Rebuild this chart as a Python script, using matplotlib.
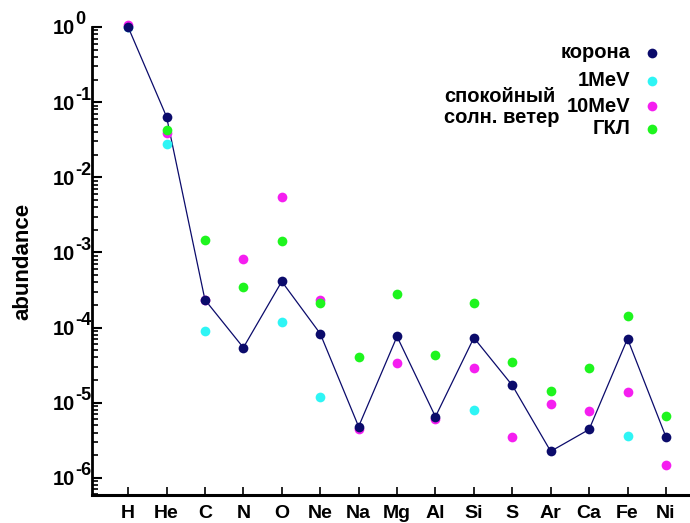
import numpy as np
import matplotlib
matplotlib.use("Agg")
import matplotlib.pyplot as plt
from matplotlib.ticker import FixedLocator, LogLocator, NullFormatter
from matplotlib.transforms import offset_copy

plt.rcParams['font.family'] = ['Liberation Sans', 'DejaVu Sans']
plt.rcParams['font.weight'] = 'bold'

# elements along x
elements = ['H', 'He', 'C', 'N', 'O', 'Ne', 'Na', 'Mg', 'Al', 'Si', 'S', 'Ar', 'Ca', 'Fe', 'Ni']
nan = np.nan

# abundances
corona = [1.0, 6.4e-2, 2.34e-4, 5.4e-5, 4.1e-4, 8.3e-5, 4.8e-6, 7.6e-5, 6.5e-6, 7.3e-5,
          1.7e-5, 2.25e-6, 4.4e-6, 7.1e-5, 3.5e-6]
sw_1mev = [1.0, 2.8e-2, 9.1e-5, nan, 1.2e-4, 1.2e-5, nan, nan, nan, 8.1e-6,
           nan, nan, nan, 3.6e-6, nan]
sw_10mev = [1.05, 3.9e-2, 2.3e-4, 8.2e-4, 5.5e-3, 2.3e-4, 4.4e-6, 3.4e-5, 6.1e-6, 2.9e-5,
            3.5e-6, 9.7e-6, 7.8e-6, 1.4e-5, 1.5e-6]
gcr = [nan, 4.3e-2, 1.47e-3, 3.5e-4, 1.42e-3, 2.1e-4, 4.0e-5, 2.8e-4, 4.35e-5, 2.1e-4,
       3.5e-5, 1.44e-5, 2.9e-5, 1.44e-4, 6.7e-6]

ytick_exp = [0, -1, -2, -3, -4, -5, -6]

navy = '#0b0b6b'
cyan = '#2ef5f5'
magenta = '#f51ef0'
green = '#1ef51e'

W, H = 690, 523
fig = plt.figure(figsize=(6.9, 5.23), dpi=100)
ax = fig.add_axes([92 / W, 1 - 495 / H, (689 - 92) / W, (495 - 27) / H])

x = np.arange(len(elements))
ax.plot(x, corona, color=navy, lw=0.9, zorder=2, clip_on=False)
ax.plot(x, sw_1mev, 'o', color=cyan, ms=7, mec='none', zorder=3, clip_on=False)
ax.plot(x, sw_10mev, 'o', color=magenta, ms=7, mec='none', zorder=3.5, clip_on=False)
ax.plot(x, gcr, 'o', color=green, ms=7, mec='none', zorder=5, clip_on=False)
ax.plot(x, corona, 'o', color=navy, ms=7, mec='none', zorder=4, clip_on=False)

ax.set_yscale('log')
ax.set_ylim(5.9e-7, 1.0)
ax.set_xlim(-0.94, 14.6)

ax.yaxis.set_major_locator(FixedLocator([10.0 ** e for e in ytick_exp]))
ax.yaxis.set_minor_locator(LogLocator(base=10, subs=np.arange(2, 10), numticks=20))
ax.yaxis.set_minor_formatter(NullFormatter())
ax.set_yticklabels([])
ax.set_xticks(x)
ax.set_xticklabels(elements)

ax.tick_params(axis='y', which='major', direction='in', length=7, width=1.5)
ax.tick_params(axis='y', which='minor', direction='in', length=4, width=1.2)
ax.tick_params(axis='x', which='major', direction='in', length=6, width=1.2,
               labelsize=14, pad=7)

# y tick labels as "10" with a big exponent, like the original
base_tr = offset_copy(ax.get_yaxis_transform(), fig=fig, x=-17, y=-2, units='dots')
exp_tr = offset_copy(ax.get_yaxis_transform(), fig=fig, x=-17, y=7, units='dots')
for e in ytick_exp:
    ax.text(0, 10.0 ** e, '10', transform=base_tr, ha='right', va='center',
            fontsize=14.5, fontweight='bold')
    ax.text(0, 10.0 ** e, str(e), transform=exp_tr, ha='left',
            va='center', fontsize=13, fontweight='bold')

for s in ['top', 'right']:
    ax.spines[s].set_visible(False)
ax.spines['left'].set_linewidth(2)
ax.spines['bottom'].set_linewidth(2.2)

ax.set_ylabel('abundance', fontsize=16, fontweight='bold', labelpad=39)

# legend drawn by hand, as in the original
leg_labels = ['корона', '1MeV', '10MeV', 'ГКЛ']
leg_colors = [navy, cyan, magenta, green]
leg_y = [53, 81, 106, 129]
for lab, col, yy in zip(leg_labels, leg_colors, leg_y):
    fig.text(630 / W, 1 - yy / H, lab, ha='right', va='center', fontsize=14.5,
             fontweight='bold')
    ax.plot([652 / W], [1 - yy / H], 'o', color=col, ms=7, mec='none',
            transform=fig.transFigure, clip_on=False)
fig.text(444 / W, 1 - 107 / H, 'спокойный\nсолн. ветер', ha='left', va='center',
         fontsize=14.5, fontweight='bold', linespacing=1.15)

fig.savefig('out.png', dpi=100)
